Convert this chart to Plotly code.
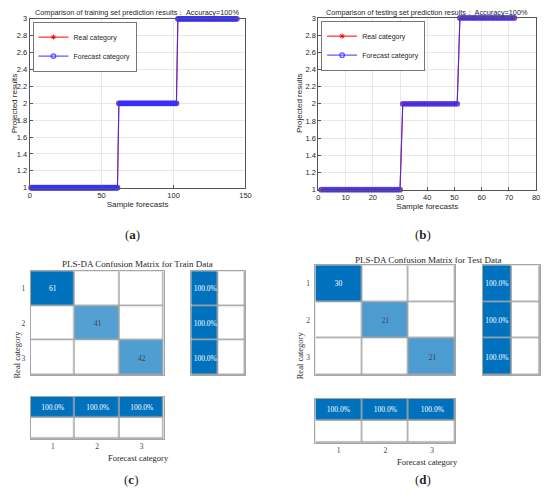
import plotly.graph_objects as go

# Class counts per set (read from the confusion matrices)
categories = [1, 2, 3]
train_counts = [61, 41, 42]
test_counts = [30, 21, 21]

# Sample-wise real / forecast category (100% accuracy, so identical)
train_real = [1] * 61 + [2] * 41 + [3] * 42
train_pred = [1] * 61 + [2] * 41 + [3] * 42
test_real = [1] * 30 + [2] * 21 + [3] * 21
test_pred = [1] * 30 + [2] * 21 + [3] * 21

train_cm = [[61, 0, 0], [0, 41, 0], [0, 0, 42]]
test_cm = [[30, 0, 0], [0, 21, 0], [0, 0, 21]]

train_row_pct = [100.0, 100.0, 100.0]
train_col_pct = [100.0, 100.0, 100.0]
test_row_pct = [100.0, 100.0, 100.0]
test_col_pct = [100.0, 100.0, 100.0]

# the page body has an 8px margin, so the figure is drawn 8px in from the
# window corner; positions below are in window pixels and get shifted back
OX, OY = 8, 8
W, H = 550 - OX, 503 - OY
SANS = "Liberation Sans, Arial, sans-serif"
SERIF = "Liberation Serif, Times New Roman, serif"
DARK = "#0072BD"
GRIDGRAY = "#a6a6a6"
INK = "#262626"


def px(x0, x1):
    return [(x0 - OX) / W, (x1 - OX) / W]


def py(top, bottom):
    return [1 - (bottom - OY) / H, 1 - (top - OY) / H]


fig = go.Figure()


# ---- top row: prediction comparison ----
def add_compare(real, pred, xa, ya, legend):
    n = list(range(1, len(real) + 1))
    fig.add_trace(go.Scatter(
        x=n, y=real, mode="lines+markers", name="Real category",
        line=dict(color="red", width=1),
        marker=dict(symbol="asterisk", size=4, line=dict(color="red", width=1)),
        xaxis=xa, yaxis=ya, legend=legend, cliponaxis=False,
    ))
    fig.add_trace(go.Scatter(
        x=n, y=pred, mode="lines+markers", name="Forecast category",
        line=dict(color="rgba(50,50,255,0.8)", width=1.2),
        marker=dict(symbol="circle-open", size=4.5,
                    line=dict(color="#1e1eff", width=1.3)),
        xaxis=xa, yaxis=ya, legend=legend, cliponaxis=False,
    ))


add_compare(train_real, train_pred, "x", "y", "legend")
add_compare(test_real, test_pred, "x2", "y2", "legend2")

line_axis = dict(
    showgrid=True, gridcolor="#e8e8e8", zeroline=False,
    showline=True, mirror=True, linecolor="#555555", linewidth=1,
    ticks="inside", ticklen=3, tickcolor="#555555",
    tickfont=dict(family=SANS, size=7.5, color=INK),
)
y_line = dict(line_axis, range=[1, 3],
              tickvals=[1, 1.2, 1.4, 1.6, 1.8, 2, 2.2, 2.4, 2.6, 2.8, 3])
x_title = dict(text="Sample forecasts", standoff=1,
               font=dict(family=SANS, size=8, color=INK))

fig.update_layout(
    xaxis=dict(line_axis, domain=px(28, 247), range=[0, 150],
               tickvals=[0, 50, 100, 150], anchor="y", title=x_title),
    yaxis=dict(y_line, domain=py(15, 187), anchor="x"),
    xaxis2=dict(line_axis, domain=px(321, 542), range=[0, 80],
                tickvals=[0, 10, 20, 30, 40, 50, 60, 70, 80], anchor="y2",
                title=x_title),
    yaxis2=dict(y_line, domain=py(14, 189), anchor="x2"),
)

legend_style = dict(
    bgcolor="white", bordercolor="#555555", borderwidth=0.8,
    font=dict(family=SANS, size=7, color=INK),
    xanchor="left", yanchor="top", tracegroupgap=0, itemwidth=30,
)
fig.update_layout(
    legend=dict(legend_style, x=(31 - OX) / W, y=1 - (18 - OY) / H),
    legend2=dict(legend_style, x=(324 - OX) / W, y=1 - (17 - OY) / H),
)


# ---- bottom row: confusion matrices ----
def add_heat(z, text, xa, ya, zmax):
    xs = list(range(1, len(z[0]) + 1))
    ys = list(range(1, len(z) + 1))
    # gray underlay shows through the cell gaps as grid lines
    fig.add_trace(go.Heatmap(
        z=[[0] * len(r) for r in z], x=xs, y=ys,
        colorscale=[[0, GRIDGRAY], [1, GRIDGRAY]],
        showscale=False, hoverinfo="skip", xaxis=xa, yaxis=ya,
    ))
    fig.add_trace(go.Heatmap(
        z=z, x=xs, y=ys, text=text, texttemplate="%{text}",
        textfont=dict(family=SERIF, size=7.5),
        colorscale=[[0, "white"], [1, DARK]], zmin=0, zmax=zmax,
        showscale=False, xgap=1.6, ygap=1.6, xaxis=xa, yaxis=ya,
    ))


def cm_text(cm):
    return [[str(v) if v else "" for v in row] for row in cm]


def add_confusion(cm, row_pct, col_pct, axes):
    xa, ya, xr, yr, xb, yb = axes
    add_heat(cm, cm_text(cm), xa, ya, max(max(r) for r in cm))
    add_heat([[p, 100 - p] for p in row_pct],
             [[f"{p:.1f}%", ""] for p in row_pct], xr, yr, 100)
    add_heat([col_pct, [100 - p for p in col_pct]],
             [[f"{p:.1f}%" for p in col_pct], ["", "", ""]], xb, yb, 100)


add_confusion(train_cm, train_row_pct, train_col_pct,
              ("x3", "y3", "x4", "y4", "x5", "y5"))
add_confusion(test_cm, test_row_pct, test_col_pct,
              ("x6", "y6", "x7", "y7", "x8", "y8"))

box = dict(showgrid=False, zeroline=False, showline=True, mirror=True,
           linecolor=GRIDGRAY, linewidth=1, ticks="", fixedrange=True,
           tickfont=dict(family=SERIF, size=7.5, color="#444444"))


def cm_axes(n, xdom, ydom, xlabels, ylabels, ncols, nrows):
    return {
        f"xaxis{n}": dict(box, domain=xdom, anchor=f"y{n}",
                          range=[0.5, ncols + 0.5],
                          tickvals=categories if xlabels else [],
                          showticklabels=xlabels),
        f"yaxis{n}": dict(box, domain=ydom, anchor=f"x{n}",
                          range=[nrows + 0.5, 0.5],
                          tickvals=categories if ylabels else [],
                          showticklabels=ylabels, ticklabelstandoff=3),
    }


for d in [
    cm_axes(3, px(29, 164), py(272, 378), False, True, 3, 3),
    cm_axes(4, px(192, 247), py(272, 378), False, False, 2, 3),
    cm_axes(5, px(29, 164), py(400, 443), True, False, 3, 2),
    cm_axes(6, px(318, 460), py(266, 378), False, True, 3, 3),
    cm_axes(7, px(488, 546), py(266, 378), False, False, 2, 3),
    cm_axes(8, px(318, 460), py(402, 447), True, False, 3, 2),
]:
    fig.update_layout(**d)

notes = [
    # text, x, y, font, size, angle  (window pixels)
    ("Comparison of training set prediction results\uff1a Accuracy=100%", 137, 9, SANS, 7.3, 0),
    ("Comparison of testing set prediction results\uff1a Accuracy=100%", 431, 8, SANS, 7.3, 0),
    ("Projected results", 12, 101, SANS, 8, -90),
    ("Projected results", 302, 101, SANS, 8, -90),
    ("PLS-DA Confusion Matrix for Train Data", 137, 265, SERIF, 9, 0),
    ("PLS-DA Confusion Matrix for Test Data", 432, 261, SERIF, 9, 0),
    ("Forecast category", 138, 462, SERIF, 8.5, 0),
    ("Forecast category", 432, 466, SERIF, 8.5, 0),
    ("Real category", 15, 357, SERIF, 8.5, -90),
    ("Real category", 302, 358, SERIF, 8.5, -90),
    ("(<b>a</b>)", 132, 235, SERIF, 13, 0),
    ("(<b>b</b>)", 427, 235, SERIF, 13, 0),
    ("(<b>c</b>)", 131, 484, SERIF, 13, 0),
    ("(<b>d</b>)", 427, 484, SERIF, 13, 0),
]
for text, x, y, fam, size, ang in notes:
    fig.add_annotation(
        text=text, x=(x - OX) / W, y=1 - (y - OY) / H,
        xref="paper", yref="paper",
        showarrow=False, textangle=ang, xanchor="center", yanchor="middle",
        font=dict(family=fam, size=size, color=INK),
    )

fig.update_layout(
    width=W, height=H, margin=dict(l=0, r=0, t=0, b=0),
    paper_bgcolor="white", plot_bgcolor="white",
)

fig.write_html("out.html")
